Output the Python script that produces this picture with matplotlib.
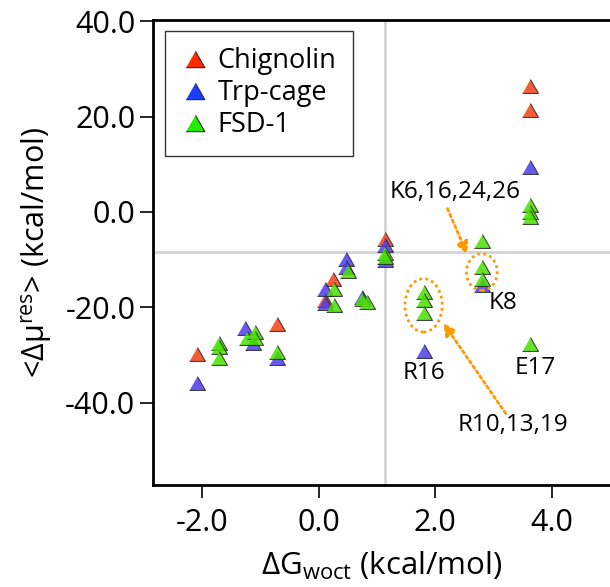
import numpy as np
import matplotlib
matplotlib.use("Agg")
import matplotlib.pyplot as plt
from matplotlib.lines import Line2D
from matplotlib.patches import Ellipse

plt.rcParams['font.family'] = ['Open Sans', 'DejaVu Sans']
plt.rcParams['mathtext.fontset'] = 'custom'
plt.rcParams['mathtext.rm'] = 'Open Sans'
plt.rcParams['mathtext.it'] = 'Open Sans:italic'
plt.rcParams['mathtext.default'] = 'regular'

# per-residue values: water/octanol transfer free energy vs. mean residue chemical potential change
chig_x = [-2.09, -0.72, 0.24, 0.115, 1.146, 3.63, 3.63]
chig_y = [-29.8, -23.5, -14.0, -18.5, -5.6, 26.5, 21.3]

trp_x = [-2.09, -1.26, -1.12, -0.72, 0.115, 0.115, 0.46, 0.46, 0.745, 1.146, 1.146, 1.80, 2.80, 3.63]
trp_y = [-36.0, -24.4, -27.6, -30.7, -16.1, -19.2, -9.8, -11.5, -17.8, -7.0, -10.1, -29.2, -15.3, 9.4]

fsd_x = [-1.71, -1.71, -1.71, -1.23, -1.10, -1.10, -0.72, 0.26, 0.26, 0.50, 0.74, 0.83,
         1.146, 1.146, 1.80, 1.80, 1.80, 2.80, 2.80, 2.80, 3.63, 3.63, 3.63, 3.63]
fsd_y = [-27.6, -28.3, -30.7, -26.5, -25.2, -26.5, -29.3, -16.1, -19.6, -12.4, -18.3, -18.9,
         -8.7, -9.4, -16.8, -18.5, -21.3, -6.1, -11.5, -14.0, 1.4, 0.0, -1.0, -27.7]

names = ["Chignolin", "Trp-cage", "FSD-1"]
legend_colors = ["#ff2a00", "#1a3cff", "#22ee00"]
point_colors = ["#f43f14", "#4e3ded", "#49e100"]

# labels for the highlighted FSD-1 residues
res_labels = ["K8", "R16", "E17"]
res_label_pos = [(3.17, -19.2), (1.80, -33.9), (3.72, -32.7)]

tri = [(-1, -0.87), (1, -0.87), (0, 0.87)]

fig = plt.figure(figsize=(6.1, 5.87), dpi=100)
ax = fig.add_axes([0.2503, 0.1738, 0.7497, 0.7922])

ax.axvline(1.146, color="#d4d4d4", lw=2, zorder=0)
ax.axhline(-8.5, color="#d4d4d4", lw=2, zorder=0)

for xs, ys, c in zip([chig_x, trp_x, fsd_x], [chig_y, trp_y, fsd_y], point_colors):
    ax.plot(xs, ys, ls="none", marker=tri, ms=11.5, mfc=c, mec="#2a2a2a",
            mew=0.8, alpha=0.85, zorder=3)

orange = "#ff9900"
ax.add_patch(Ellipse((2.80, -12.6), 0.53, 7.7, fill=False, ec=orange, lw=2,
                     ls=(0, (1, 1.2)), zorder=4))
ax.add_patch(Ellipse((1.80, -19.6), 0.64, 11.2, fill=False, ec=orange, lw=2,
                     ls=(0, (1, 1.2)), zorder=4))

ax.annotate("", xy=(2.55, -8.9), xytext=(2.21, 0.7),
            arrowprops=dict(arrowstyle="-|>", color=orange, lw=2, ls=(0, (1, 1.2)),
                            mutation_scale=18, shrinkA=0, shrinkB=0), zorder=4)
ax.annotate("", xy=(2.14, -23.3), xytext=(3.21, -42.3),
            arrowprops=dict(arrowstyle="-|>", color=orange, lw=2, ls=(0, (1, 1.2)),
                            mutation_scale=18, shrinkA=0, shrinkB=0), zorder=4)

ax.text(2.35, 4.2, "K6,16,24,26", fontsize=17.5, ha="center", va="center")
ax.text(3.34, -44.7, "R10,13,19", fontsize=17.5, ha="center", va="center")
for lab, (lx, ly) in zip(res_labels, res_label_pos):
    ax.text(lx, ly, lab, fontsize=17.5, ha="center", va="center")

ax.set_xlim(-2.85, 5.0)
ax.set_ylim(-57.3, 40.3)
ax.set_xticks([-2, 0, 2, 4])
ax.set_yticks([-40, -20, 0, 20, 40])
ax.xaxis.set_major_formatter(matplotlib.ticker.FormatStrFormatter("%.1f"))
ax.yaxis.set_major_formatter(matplotlib.ticker.FormatStrFormatter("%.1f"))
ax.tick_params(direction="out", length=9.5, width=1.2, labelsize=22, pad=3)
ax.tick_params(axis="x", pad=7)

for side in ["left", "bottom", "top"]:
    ax.spines[side].set_linewidth(2)
ax.spines["right"].set_visible(False)

ax.set_xlabel(r"$\Delta$G$_{woct}$ (kcal/mol)", fontsize=22.5, labelpad=9)
ax.set_ylabel(r"<$\Delta\mu^{res}$> (kcal/mol)", fontsize=22, labelpad=8)

handles = [Line2D([], [], ls="none", marker=tri, ms=13.5, mfc=c, mec="#2a2a2a", mew=0.8)
           for c in legend_colors]
leg = ax.legend(handles, names, loc="upper left", bbox_to_anchor=(0.027, 0.976),
                fontsize=19.5, frameon=True, fancybox=False, edgecolor="black",
                borderpad=0.6, labelspacing=0.15, handletextpad=0.35, handlelength=1.0,
                borderaxespad=0)
leg.get_frame().set_linewidth(1)

fig.savefig("out.png", dpi=100)
